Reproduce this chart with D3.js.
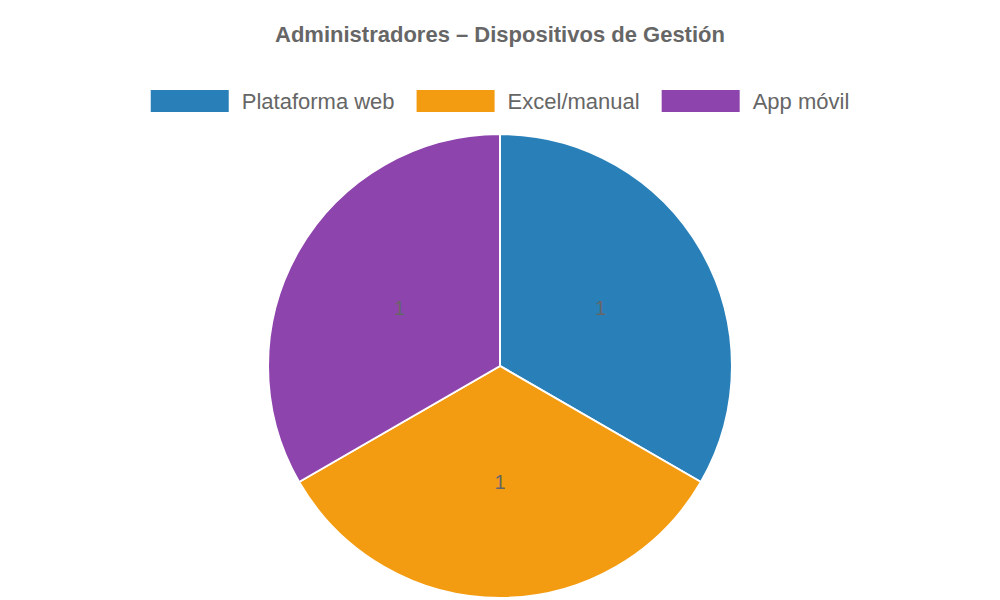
<!DOCTYPE html>
<html><head><meta charset="utf-8">
<script src="https://cdn.jsdelivr.net/npm/d3@7"></script>
<style>body{margin:0;background:#fff}</style>
</head><body>
<script>
  let width = 1000;
  let height = 600;

  let labels = ["Plataforma web", "Excel/manual", "App móvil"];
  let values = [1, 1, 1];
  let colors = ["#2980b9", "#f39c12", "#8e44ad"];

  let svg = d3.select("body").append("svg")
    .attr("width", width).attr("height", height)
    .style("font-family", "Liberation Sans, Arial, sans-serif");

  svg.append("text")
    .attr("x", width / 2).attr("y", 42)
    .attr("text-anchor", "middle")
    .attr("font-size", 22).attr("font-weight", "bold")
    .attr("fill", "#666")
    .text("Administradores – Dispositivos de Gestión");

  // legend, laid out then centred
  let legend = svg.append("g");
  let x = 0;
  labels.forEach((l, i) => {
    let g = legend.append("g").attr("transform", "translate(" + x + ",0)");
    g.append("rect").attr("width", 78).attr("height", 22).attr("fill", colors[i]);
    let t = g.append("text").attr("x", 91).attr("y", 19)
      .attr("font-size", 22).attr("fill", "#666").text(l);
    x += 91 + t.node().getComputedTextLength() + 22;
  });
  x -= 22;
  legend.attr("transform", "translate(" + (width - x) / 2 + ",90)");

  let cx = 500, cy = 366, r = 232;
  let pie = d3.pie().sort(null)(values);
  let arc = d3.arc().innerRadius(0).outerRadius(r);
  let g = svg.append("g").attr("transform", "translate(" + cx + "," + cy + ")");

  g.selectAll("path").data(pie).enter().append("path")
    .attr("d", arc)
    .attr("fill", (d, i) => colors[i])
    .attr("stroke", "#fff").attr("stroke-width", 2);

  let labelArc = d3.arc().innerRadius(r / 2).outerRadius(r / 2);
  g.selectAll(".lbl").data(pie).enter().append("text")
    .attr("transform", d => "translate(" + labelArc.centroid(d) + ")")
    .attr("text-anchor", "middle").attr("dy", "0.35em")
    .attr("font-size", 20).attr("fill", "#666")
    .text(d => d.data);
</script>
</body></html>
